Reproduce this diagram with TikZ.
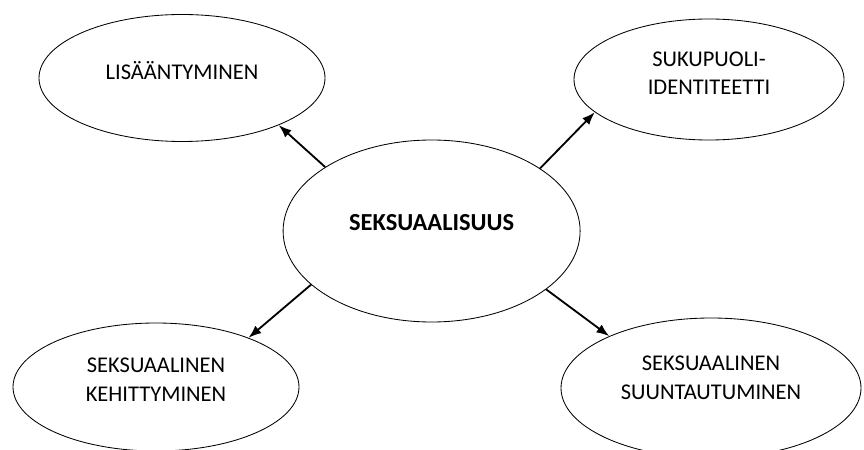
\documentclass[tikz,border=0pt]{standalone}
\usepackage{fontspec}
\setmainfont{Carlito}
\usetikzlibrary{shapes.geometric,arrows.meta}
\begin{document}
\begin{tikzpicture}[
  topic/.style={draw, ellipse, inner sep=0pt, align=center, line width=0.6pt,
    font=\fontsize{16}{20.5}\selectfont},
  link/.style={-{Latex[length=3.2mm,width=2.4mm]}, line width=1.3pt}]
  \useasboundingbox (0,0) rectangle (21.6,11.225);
  \node[topic, minimum width=7.425cm, minimum height=4.55cm, text height=12pt, text depth=13pt,
    font=\fontsize{17.4}{20}\selectfont\bfseries] (sek) at (10.79,5.45) {SEKSUAALISUUS};
  \node[topic, minimum width=7.15cm, minimum height=3.175cm, text height=11pt, text depth=9pt] (lis) at (4.55,9.275) {LISÄÄNTYMINEN};
  \node[topic, minimum width=6.75cm, minimum height=3.025cm, text depth=9pt] (suk) at (17.725,9.2375) {SUKUPUOLI-\\IDENTITEETTI};
  \node[topic, minimum width=7.15cm, minimum height=3.2cm, text depth=10.5pt] (keh) at (3.9,1.55) {SEKSUAALINEN\\KEHITTYMINEN};
  \node[topic, minimum width=7.5cm, minimum height=3.5cm, text depth=14.5pt] (suu) at (17.775,1.525) {SEKSUAALINEN\\SUUNTAUTUMINEN};
  \draw[link] (sek.149.5) -- (lis.-26.6);
  \draw[link] (sek.30.8) -- (suk.-164.8);
  \draw[link] (sek.-156.4) -- (keh.28);
  \draw[link] (sek.-27.3) -- (suu.153);
\end{tikzpicture}
\end{document}
